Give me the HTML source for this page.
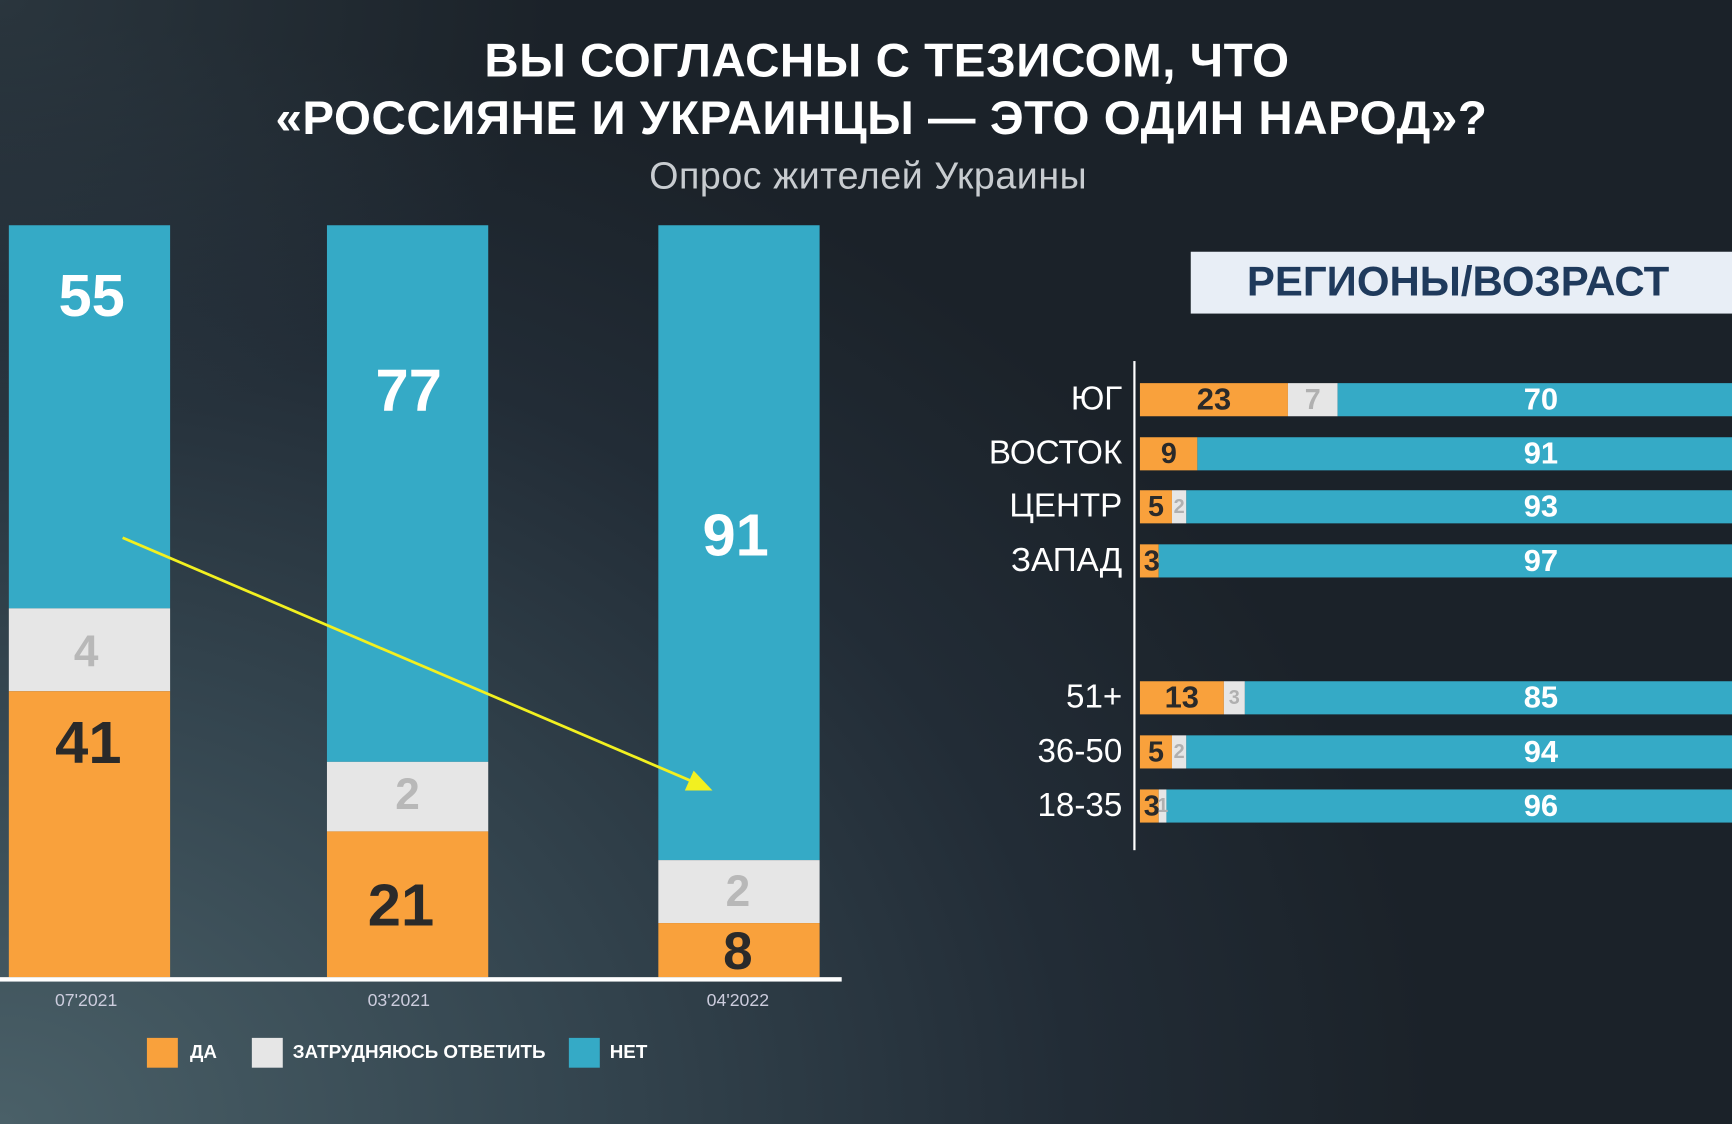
<!DOCTYPE html>
<html><head><meta charset="utf-8"><style>
html,body{margin:0;padding:0;width:1732px;height:1124px;overflow:hidden;background:#1d2630}
#w{position:absolute;left:0;top:0;width:1568px;height:1018px;transform:scale(1.10459,1.10413);transform-origin:0 0;
background:radial-gradient(ellipse 1300px 1000px at 0% 100%,#4a6068 0%,#34454f 40%,#222c36 75%,#1b2229 100%);
font-family:"Liberation Sans",sans-serif;overflow:hidden}
.a{position:absolute}
.t{position:absolute;transform:translate(-50%,-50%);white-space:nowrap;font-weight:bold}
.r{position:absolute;transform:translateY(-50%);right:552px;color:#fff;font-size:30px;white-space:nowrap}
.o{background:#f9a13c}.g{background:#e6e6e6}.b{background:#35aac6}
</style></head><body><div id="w">
<div class="a" style="left:0;top:0;width:1568px;height:1018px;background:radial-gradient(ellipse 500px 400px at 0% 0%,rgba(70,90,100,0.35),rgba(0,0,0,0))"></div>
<div class="t" style="left:803px;top:56px;color:#fff;font-size:43px;letter-spacing:0.5px">ВЫ СОГЛАСНЫ С ТЕЗИСОМ, ЧТО</div>
<div class="t" style="left:798px;top:108px;color:#fff;font-size:43px;letter-spacing:0.5px">«РОССИЯНЕ И УКРАИНЦЫ — ЭТО ОДИН НАРОД»?</div>
<div class="t" style="left:786px;top:160px;color:#c8ccd0;font-size:34px;font-weight:normal;letter-spacing:0.5px">Опрос жителей Украины</div>

<div class="a b" style="left:8px;top:204px;width:146px;height:347px"></div>
<div class="a g" style="left:8px;top:551px;width:146px;height:75px"></div>
<div class="a o" style="left:8px;top:626px;width:146px;height:259px"></div>
<div class="a b" style="left:296px;top:204px;width:146px;height:486px"></div>
<div class="a g" style="left:296px;top:690px;width:146px;height:63px"></div>
<div class="a o" style="left:296px;top:753px;width:146px;height:132px"></div>
<div class="a b" style="left:596px;top:204px;width:146px;height:575px"></div>
<div class="a g" style="left:596px;top:779px;width:146px;height:57px"></div>
<div class="a o" style="left:596px;top:836px;width:146px;height:49px"></div>
<div class="a" style="left:0;top:885px;width:762px;height:4px;background:#fff"></div>

<div class="t" style="left:83px;top:268px;color:#fff;font-size:54px">55</div>
<div class="t" style="left:78px;top:591px;color:#b8b8b8;font-size:40px">4</div>
<div class="t" style="left:80px;top:673px;color:#2a2a2a;font-size:54px">41</div>
<div class="t" style="left:370px;top:354px;color:#fff;font-size:54px">77</div>
<div class="t" style="left:369px;top:720px;color:#b8b8b8;font-size:40px">2</div>
<div class="t" style="left:363px;top:820px;color:#2a2a2a;font-size:54px">21</div>
<div class="t" style="left:666px;top:485px;color:#fff;font-size:54px">91</div>
<div class="t" style="left:668px;top:808px;color:#b8b8b8;font-size:40px">2</div>
<div class="t" style="left:668px;top:862px;color:#2a2a2a;font-size:48px">8</div>

<div class="t" style="left:78px;top:907px;color:#ccd;font-size:16px;font-weight:normal">07'2021</div>
<div class="t" style="left:361px;top:907px;color:#ccd;font-size:16px;font-weight:normal">03'2021</div>
<div class="t" style="left:668px;top:907px;color:#ccd;font-size:16px;font-weight:normal">04'2022</div>

<div class="a o" style="left:133px;top:940px;width:28px;height:27px"></div>
<div class="a" style="left:172px;top:943px;color:#fff;font-size:17px;font-weight:bold">ДА</div>
<div class="a g" style="left:228px;top:940px;width:28px;height:27px"></div>
<div class="a" style="left:265px;top:943px;color:#fff;font-size:17px;font-weight:bold">ЗАТРУДНЯЮСЬ ОТВЕТИТЬ</div>
<div class="a b" style="left:515px;top:940px;width:28px;height:27px"></div>
<div class="a" style="left:552px;top:943px;color:#fff;font-size:17px;font-weight:bold">НЕТ</div>

<svg class="a" style="left:0;top:0" width="1568" height="1018"><line x1="111" y1="487" x2="632" y2="710" stroke="#f2f020" stroke-width="2.5"/><polygon points="645,716 620,716 628,698" fill="#f2f020"/></svg>

<div class="a" style="left:1078px;top:228px;width:490px;height:56px;background:#e8eef6"></div>
<div class="t" style="left:1320px;top:256px;color:#1f3a5c;font-size:38px">РЕГИОНЫ/ВОЗРАСТ</div>
<div class="a" style="left:1026px;top:327px;width:2px;height:443px;background:#fff"></div>

<div id="rows"></div>
<script>
var rows=[["ЮГ",362,23,7,70],["ВОСТОК",411,9,0,91],["ЦЕНТР",459,5,2,93],["ЗАПАД",508,3,0,97],["51+",632,13,3,85],["36-50",681,5,2,94],["18-35",730,3,1,96]];
var h="",u=5.83;
rows.forEach(function(r){var y=r[1]-15,x=1032,ow=r[2]*u,gw=r[3]*6.4;
h+='<div class="r" style="top:'+r[1]+'px">'+r[0]+'</div>';
h+='<div class="a o" style="left:'+x+'px;top:'+y+'px;width:'+ow+'px;height:30px"></div>';
if(gw)h+='<div class="a g" style="left:'+(x+ow)+'px;top:'+y+'px;width:'+gw+'px;height:30px"></div>';
h+='<div class="a b" style="left:'+(x+ow+gw)+'px;top:'+y+'px;width:700px;height:30px"></div>';
h+='<div class="t" style="left:'+(x+ow/2+ (r[2]<5?2:0))+'px;top:'+r[1]+'px;color:#2a2a2a;font-size:'+(r[2]<10?26:28)+'px">'+r[2]+'</div>';
if(gw)h+='<div class="t" style="left:'+(x+ow+gw/2)+'px;top:'+r[1]+'px;color:#b0b0b0;font-size:'+(r[3]>5?26:18)+'px">'+r[3]+'</div>';
h+='<div class="t" style="left:1395px;top:'+r[1]+'px;color:#fff;font-size:28px">'+r[4]+'</div>';});
document.getElementById("rows").innerHTML=h;
</script>
</div></body></html>
